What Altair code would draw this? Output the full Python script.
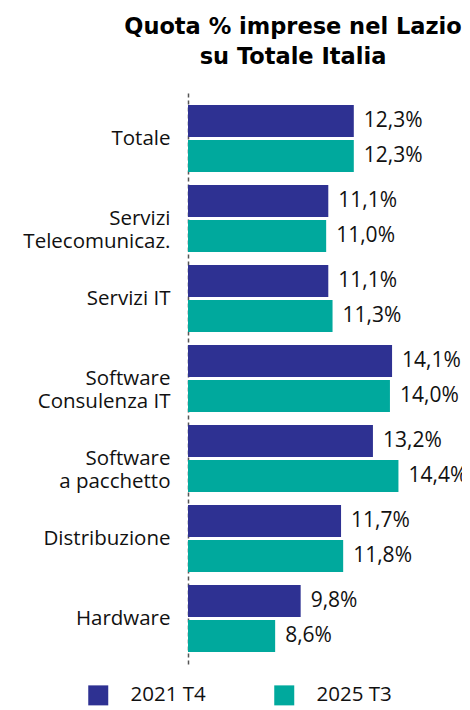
import altair as alt
import pandas as pd

categories = ["Totale", "Servizi\nTelecomunicaz.", "Servizi IT", "Software\nConsulenza IT",
              "Software\na pacchetto", "Distribuzione", "Hardware"]
series = ["2021 T4", "2025 T3"]
v2021 = [12.3, 11.1, 11.1, 14.1, 13.2, 11.7, 9.8]
v2025 = [12.3, 11.0, 11.3, 14.0, 14.4, 11.8, 8.6]
colors = ["#2E3192", "#00A99D"]

rows = []
for c, a, b in zip(categories, v2021, v2025):
    for s, v in zip(series, [a, b]):
        rows.append({"cat": c, "serie": s, "val": v,
                     "lab": f"{v:.1f}".replace(".", ",") + "%"})
df = pd.DataFrame(rows)

FONT = "Open Sans"
FS_CAT = 20.5
FS_VAL = 21

y = alt.Y("cat:N", sort=categories, title=None,
          scale=alt.Scale(paddingInner=0.1625, paddingOuter=0.15),
          axis=alt.Axis(labelExpr="split(datum.label, '\\n')", labelFontSize=FS_CAT,
                        labelFont=FONT, labelColor="#111", labelLineHeight=23,
                        labelPadding=18, ticks=False, domainDash=[4, 3],
                        domainColor="#555", domainWidth=1.5, labelAlign="right",
                        labelBaseline="middle", labelLimit=300))
yoff = alt.YOffset("serie:N", sort=series, scale=alt.Scale(paddingInner=0.09, paddingOuter=0))
x = alt.X("val:Q", axis=None, scale=alt.Scale(domain=[4.5, 17.39], zero=False, clamp=True))

bars = alt.Chart(df).mark_bar().encode(
    x=x, y=y, yOffset=yoff,
    color=alt.Color("serie:N", sort=series, scale=alt.Scale(domain=series, range=colors),
                    legend=alt.Legend(orient="none", legendX=-100, legendY=592,
                                      direction="horizontal", title=None,
                                      symbolType="square", symbolSize=400,
                                      symbolStrokeWidth=0, symbolOpacity=1,
                                      labelFontSize=FS_CAT, labelFont=FONT, labelColor="#111",
                                      labelOffset=22, columnPadding=68))
)
text = alt.Chart(df).mark_text(align="left", baseline="middle", dx=10, fontSize=FS_VAL,
                               font=FONT, color="#111").encode(
    x=x, y=y, yOffset=yoff, text="lab:N"
)

chart = alt.layer(bars, text).properties(
    width=274, height=571,
    autosize=alt.AutoSizeParams(type="none"),
    padding={"left": 180, "top": 85, "right": 0, "bottom": 46},
    title=alt.TitleParams(["Quota % imprese nel Lazio", "su Totale Italia"],
                          fontSize=22.5, font="DejaVu Sans", fontWeight="bold", color="#000",
                          anchor="middle", dx=-32, lineHeight=30, offset=25),
).configure_view(stroke=None)

chart.save("out.html", embed_options={"renderer": "svg", "actions": False})
